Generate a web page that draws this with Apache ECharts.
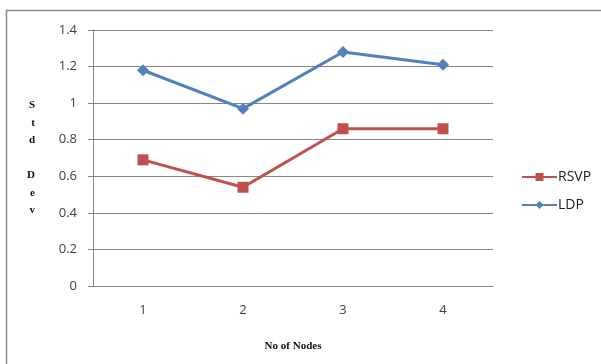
<!DOCTYPE html>
<html>
<head>
<meta charset="utf-8">
<script src="https://cdn.jsdelivr.net/npm/echarts@6/dist/echarts.min.js"></script>
<style>html,body{margin:0;padding:0;background:#fff}#c{width:601px;height:364px}</style>
</head>
<body>
<div id="c"></div>
<script>
// Standard deviation of the two protocols by number of nodes
const categories = ['1', '2', '3', '4'];
const rsvp = [0.69, 0.54, 0.86, 0.86];
const ldp = [1.18, 0.97, 1.28, 1.21];

const chart = echarts.init(document.getElementById('c'), null, { renderer: 'canvas' });
const labelFont = { fontFamily: 'Open Sans', fontSize: 13, color: '#404040' };
const axisGray = '#868686';

chart.setOption({
  animation: false,
  backgroundColor: '#fff',
  graphic: [{
    type: 'rect',
    shape: { x: 6.5, y: 10.5, width: 700, height: 400 },
    style: { fill: 'none', stroke: '#8c8c8c', lineWidth: 1.5 },
    silent: true
  }],
  grid: { left: 93, right: 108, top: 30, bottom: 78 },
  legend: {
    orient: 'vertical',
    left: 516,
    top: 165,
    itemWidth: 35,
    itemHeight: 10,
    itemGap: 14,
    textStyle: { fontFamily: 'Open Sans', fontSize: 14, color: '#222', padding: [0, 0, 0, -4] },
    data: ['RSVP', 'LDP']
  },
  xAxis: {
    type: 'category',
    data: categories,
    boundaryGap: true,
    name: 'No of Nodes',
    nameLocation: 'middle',
    nameGap: 55,
    nameTextStyle: { fontFamily: 'Liberation Serif', fontWeight: 'bold', fontSize: 11, color: '#111' },
    axisLine: { lineStyle: { color: axisGray } },
    axisTick: { alignWithLabel: false, length: 5, lineStyle: { color: axisGray } },
    axisLabel: Object.assign({ margin: 18 }, labelFont),
    splitLine: { show: false }
  },
  yAxis: {
    type: 'value',
    min: 0,
    max: 1.4,
    interval: 0.2,
    name: 'S\nt\nd\n\nD\ne\nv',
    nameLocation: 'middle',
    nameRotate: 0,
    nameGap: 58,
    nameTextStyle: { fontFamily: 'Liberation Serif', fontWeight: 'bold', fontSize: 11, color: '#111', lineHeight: 17.5 },
    axisLine: { show: true, lineStyle: { color: axisGray } },
    axisTick: { show: true, length: 5, lineStyle: { color: axisGray } },
    axisLabel: Object.assign({ margin: 16, formatter: v => String(+v.toFixed(1)) }, labelFont),
    splitLine: { lineStyle: { color: axisGray, width: 1 } }
  },
  series: [
    {
      name: 'RSVP',
      type: 'line',
      data: rsvp,
      symbol: 'rect',
      symbolSize: 11,
      itemStyle: { color: '#C0504D' },
      lineStyle: { color: '#C0504D', width: 3 }
    },
    {
      name: 'LDP',
      type: 'line',
      data: ldp,
      symbol: 'diamond',
      symbolSize: 12,
      itemStyle: { color: '#4F81BD' },
      lineStyle: { color: '#4F81BD', width: 3 }
    }
  ]
});
</script>
</body>
</html>
